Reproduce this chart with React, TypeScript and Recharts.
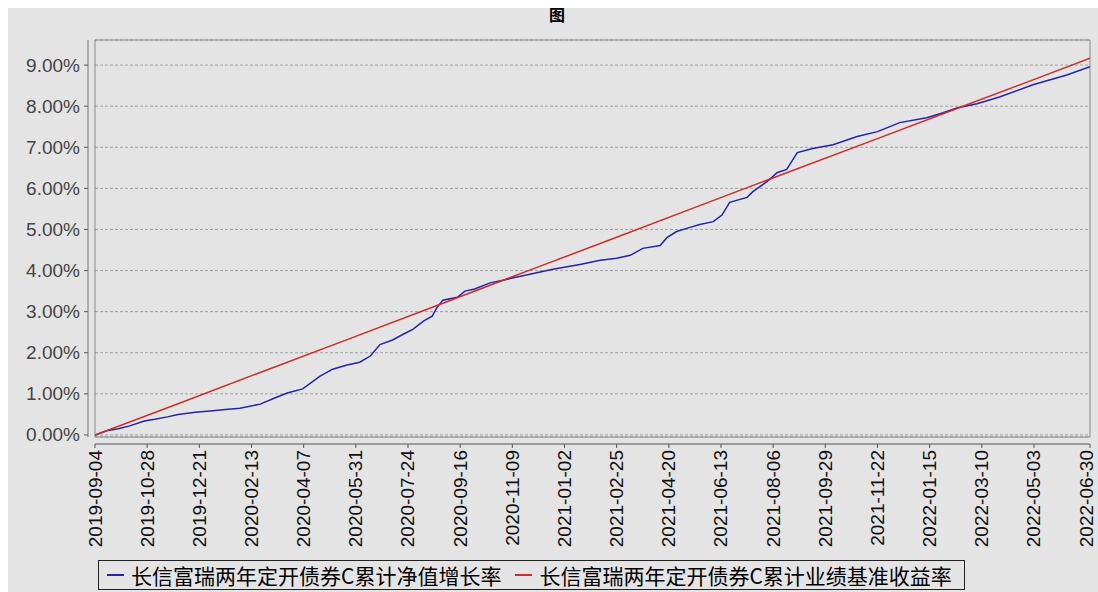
import { LineChart, Line, XAxis, YAxis, CartesianGrid, ReferenceArea, ReferenceLine } from "recharts";

// 累计净值增长率 (%)
const navDates = [
  "2019-09-04", "2019-09-16", "2019-09-28", "2019-10-10", "2019-10-25", "2019-11-05",
  "2019-11-18", "2019-11-29", "2019-12-17", "2020-01-01", "2020-01-17", "2020-02-01",
  "2020-02-22", "2020-03-08", "2020-03-21", "2020-04-06", "2020-04-24", "2020-05-07",
  "2020-05-22", "2020-06-04", "2020-06-15", "2020-06-25", "2020-07-08", "2020-07-19",
  "2020-07-29", "2020-08-09", "2020-08-18", "2020-08-23", "2020-08-29", "2020-09-13",
  "2020-09-21", "2020-10-01", "2020-10-17", "2020-11-04", "2020-11-27", "2020-12-21",
  "2021-01-18", "2021-02-08", "2021-02-25", "2021-03-11", "2021-03-24", "2021-04-11",
  "2021-04-18", "2021-04-28", "2021-05-12", "2021-05-22", "2021-06-05", "2021-06-14",
  "2021-06-22", "2021-07-10", "2021-07-16", "2021-07-31", "2021-08-10", "2021-08-20",
  "2021-08-31", "2021-09-16", "2021-10-07", "2021-11-01", "2021-11-22", "2021-12-15",
  "2022-01-12", "2022-01-29", "2022-02-13", "2022-03-05", "2022-03-29", "2022-05-02",
  "2022-06-06", "2022-06-30",
];
const navValues = [
  0.0, 0.1, 0.15, 0.22, 0.34, 0.38,
  0.44, 0.5, 0.55, 0.58, 0.62, 0.65,
  0.75, 0.9, 1.02, 1.12, 1.43, 1.6,
  1.7, 1.77, 1.92, 2.2, 2.31, 2.45,
  2.57, 2.77, 2.89, 3.1, 3.28, 3.35,
  3.5, 3.55, 3.7, 3.79, 3.91, 4.03,
  4.15, 4.25, 4.3, 4.37, 4.54, 4.61,
  4.8, 4.95, 5.05, 5.12, 5.19, 5.35,
  5.66, 5.78, 5.92, 6.17, 6.38, 6.46,
  6.87, 6.97, 7.06, 7.26, 7.38, 7.6,
  7.72, 7.84, 7.96, 8.06, 8.23, 8.52,
  8.76, 8.96,
];

// 累计业绩基准收益率 (%)
const benchDates = [
  "2019-09-04", "2019-11-29", "2020-02-22", "2020-05-22", "2020-08-23", "2020-11-27",
  "2021-02-25", "2021-05-22", "2021-08-20", "2021-11-22", "2022-02-13", "2022-05-02",
  "2022-06-30",
];
const benchValues = [0.0, 0.76, 1.52, 2.32, 3.15, 4.01, 4.81, 5.58, 6.38, 7.21, 7.95, 8.64, 9.17];

const tickDates = [
  "2019-09-04", "2019-10-28", "2019-12-21", "2020-02-13", "2020-04-07", "2020-05-31",
  "2020-07-24", "2020-09-16", "2020-11-09", "2021-01-02", "2021-02-25", "2021-04-20",
  "2021-06-13", "2021-08-06", "2021-09-29", "2021-11-22", "2022-01-15", "2022-03-10",
  "2022-05-03", "2022-06-30",
];
const yTicks = [0, 1, 2, 3, 4, 5, 6, 7, 8, 9];

const seriesNames = ["长信富瑞两年定开债券C累计净值增长率", "长信富瑞两年定开债券C累计业绩基准收益率"];
const seriesColors = ["#2323b0", "#d02b2b"];

const toTime = (d: string) => Date.parse(d + "T00:00:00Z");
const fmtDate = (t: number) => new Date(t).toISOString().slice(0, 10);

const navData = navDates.map((d, i) => ({ t: toTime(d), v: navValues[i] }));
const benchData = benchDates.map((d, i) => ({ t: toTime(d), v: benchValues[i] }));
const tickTimes = tickDates.map(toTime);

const xMin = toTime("2019-09-04");
const xMax = toTime("2022-06-30");
const yMin = -0.05;
const yMax = 9.61;

const CHART_W = 1090;
const BG = "#e4e4e4";
const AXIS_GAP = 7;

function XTick(p: any) {
  const { x, y, payload } = p;
  const ty = y + AXIS_GAP + 6;
  // keep the last label inside the picture
  const tx = Math.min(x, CHART_W - 12);
  return (
    <g>
      <line x1={x} x2={x} y1={y + AXIS_GAP} y2={y + AXIS_GAP + 4} stroke="#555" />
      <text
        x={tx}
        y={ty}
        transform={`rotate(-90 ${tx} ${ty})`}
        textAnchor="end"
        dominantBaseline="central"
        fontSize={19}
        fontFamily="Liberation Sans, Arial, sans-serif"
        fill="#111"
      >
        {fmtDate(payload.value)}
      </text>
    </g>
  );
}

function YTick(p: any) {
  const { x, y, payload } = p;
  return (
    <g>
      <line x1={x - AXIS_GAP} x2={x - AXIS_GAP - 4} y1={y} y2={y} stroke="#555" />
      <text
        x={x - 15}
        y={y}
        textAnchor="end"
        dominantBaseline="central"
        fontSize={19}
        fontFamily="Liberation Sans, Arial, sans-serif"
        fill="#444"
      >
        {payload.value.toFixed(2)}%
      </text>
    </g>
  );
}

export default function App() {
  return (
    <div style={{ position: "absolute", left: 0, top: 0, width: 1098, height: 592, background: "#fff", overflow: "hidden" }}>
      <div style={{ position: "absolute", left: 8, top: 8, width: CHART_W, height: 584, background: BG }}>
        <LineChart width={CHART_W} height={584} margin={{ top: 32, right: 8, bottom: 45, left: 7 }}>
          <CartesianGrid horizontal vertical={false} stroke="#a0a0a0" strokeDasharray="3 2" />
          <XAxis
            dataKey="t"
            type="number"
            domain={[xMin, xMax]}
            ticks={tickTimes}
            interval={0}
            height={110}
            tickSize={0}
            tickMargin={0}
            tickLine={false}
            axisLine={false}
            allowDataOverflow
            tick={XTick}
          />
          <YAxis
            type="number"
            domain={[yMin, yMax]}
            ticks={yTicks}
            interval={0}
            width={80}
            tickSize={0}
            tickMargin={0}
            tickLine={false}
            axisLine={false}
            allowDataOverflow
            tick={YTick}
          />
          <ReferenceLine
            x={xMin}
            stroke="#777"
            shape={(p: any) => (
              <line x1={p.x1 - AXIS_GAP} x2={p.x2 - AXIS_GAP} y1={p.y1} y2={p.y2} stroke="#777" />
            )}
          />
          <ReferenceLine
            y={yMin}
            stroke="#555"
            shape={(p: any) => (
              <line x1={p.x1} x2={p.x2} y1={p.y1 + AXIS_GAP} y2={p.y2 + AXIS_GAP} stroke="#555" />
            )}
          />
          <Line data={navData} dataKey="v" type="linear" stroke={seriesColors[0]} strokeWidth={1.5} dot={false} isAnimationActive={false} />
          <Line data={benchData} dataKey="v" type="linear" stroke={seriesColors[1]} strokeWidth={1.5} dot={false} isAnimationActive={false} />
          <ReferenceArea x1={xMin} x2={xMax} y1={yMin} y2={yMax} fill="none" stroke="#888" strokeWidth={1} ifOverflow="visible" />
        </LineChart>
        <div
          style={{
            position: "absolute",
            left: 541,
            top: -6,
            fontSize: 16,
            fontWeight: "bold",
            fontFamily: "Noto Sans CJK SC, sans-serif",
            color: "#000",
          }}
        >
          图
        </div>
        <div
          style={{
            position: "absolute",
            left: 90,
            top: 552,
            height: 30,
            border: "1px solid #222",
            display: "flex",
            alignItems: "center",
            padding: "0 12px 0 8px",
            fontSize: 21,
            lineHeight: "26px",
            fontFamily: "Noto Sans CJK SC, sans-serif",
            color: "#000",
            whiteSpace: "nowrap",
            boxSizing: "border-box",
          }}
        >
          {seriesNames.map((name, i) => (
            <span key={name} style={{ display: "flex", alignItems: "center", marginRight: i === 0 ? 14 : 0 }}>
              <span style={{ display: "inline-block", width: 17, height: 2, background: seriesColors[i], marginRight: 7 }} />
              {name}
            </span>
          ))}
        </div>
      </div>
    </div>
  );
}
